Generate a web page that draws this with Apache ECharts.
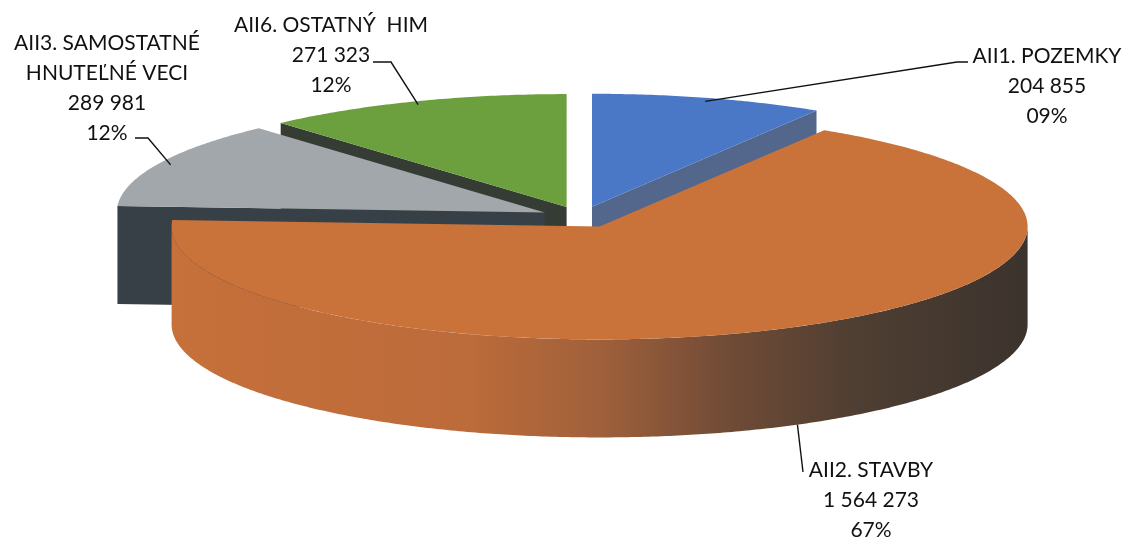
<!DOCTYPE html>
<html><head><meta charset="utf-8">
<script src="https://cdn.jsdelivr.net/npm/echarts@6/dist/echarts.min.js"></script>
<style>html,body{margin:0;padding:0;background:#fff}#chart{width:1130px;height:541px}</style>
</head><body><div id="chart"></div>
<script>
// ---- data ----
const categories = ['AII1. POZEMKY', 'AII2. STAVBY', 'AII3. SAMOSTATNÉ\nHNUTEĽNÉ VECI', 'AII6. OSTATNÝ  HIM'];
const values = [204855, 1564273, 289981, 271323];

// ---- style / layout ----
const topColors = ['#4A77C6', '#C9733B', '#A2A7AC', '#6C9F3D'];
const wallColors = ['#53678D', '#A8643A', '#384047', '#343C33'];
const wallGradients = [null, [[0, '#C6703A'], [0.35, '#BC6B3A'], [0.5, '#A0603B'], [0.65, '#704B36'], [0.8, '#4F3E32'], [1, '#3B332D']], null, null];
const labelLayout = [
  { cx: 1047, y: 56, path: [[957, 62], [968, 62]] },
  { cx: 871, y: 470, path: [[803, 472]] },
  { cx: 107, y: 43, path: [[148, 138], [135, 138]] },
  { cx: 331, y: 25, path: [[391, 62], [373, 62]] }
];
const geom = { cx: 581, cy: 217, rx: 428, ry: 113, depth: 98, explode: 0.094 };
const font = '21px Lato';
const lineH = 30;

// ---- derived ----
const total = values.reduce((a, b) => a + b, 0);
let acc = 0;
const slices = values.map(v => {
  const a0 = acc / total * 2 * Math.PI; acc += v;
  const a1 = acc / total * 2 * Math.PI;
  return { a0, a1, mid: (a0 + a1) / 2 };
});
const order = slices.map((s, i) => i).sort((a, b) => Math.cos(slices[b].mid) - Math.cos(slices[a].mid));
const rank = []; order.forEach((idx, k) => rank[idx] = k);

function fmt(v) { return String(v).replace(/\B(?=(\d{3})+(?!\d))/g, ' '); }
function pct(v) { const p = Math.round(v / total * 100); return (p < 10 ? '0' : '') + p + '%'; }

function renderItem(params, api) {
  const i = params.dataIndex;
  const v = api.value(0);
  const s = slices[i];
  const g = geom, D = g.depth;
  const ox = g.explode * g.rx * Math.sin(s.mid), oy = -g.explode * g.ry * Math.cos(s.mid);
  const P = (t, r, h) => [g.cx + ox + r * g.rx * Math.sin(t), g.cy + oy - r * g.ry * Math.cos(t) + h];
  const arc = (t0, t1, h) => {
    const n = Math.max(2, Math.ceil((t1 - t0) / 0.01)); const pts = [];
    for (let k = 0; k <= n; k++) pts.push(P(t0 + (t1 - t0) * k / n, 1, h));
    return pts;
  };
  const z = rank[i] * 10;
  const children = [];
  const wallFill = wallGradients[i] ? new echarts.graphic.LinearGradient(0, 0, 1, 0, wallGradients[i].map(([o, c]) => ({ offset: o, color: c }))) : wallColors[i];
  // radial walls (only those facing the viewer)
  [[s.a0, Math.sin(s.a0) < -1e-6], [s.a1, Math.sin(s.a1) > 1e-6]].forEach(([t, vis]) => {
    if (!vis) return;
    children.push({ type: 'polygon', z2: z + 1, shape: { points: [P(t, 0, 0), P(t, 1, 0), P(t, 1, D), P(t, 0, D)] }, style: { fill: wallColors[i] } });
  });
  // outer (front) wall
  const f0 = Math.max(s.a0, Math.PI / 2), f1 = Math.min(s.a1, 1.5 * Math.PI);
  if (f1 > f0) {
    const top = arc(f0, f1, 0), bot = arc(f0, f1, D).reverse();
    children.push({ type: 'polygon', z2: z + 2, shape: { points: top.concat(bot) }, style: { fill: wallFill } });
  }
  // top face
  children.push({ type: 'polygon', z2: z + 3, shape: { points: [P(s.a0, 0, 0)].concat(arc(s.a0, s.a1, 0)) }, style: { fill: topColors[i] } });
  // leader line
  const front = Math.cos(s.mid) < 0;
  const anchor = front ? P(s.mid, 1, D) : P(s.mid, 0.97, 0);
  const L = labelLayout[i];
  children.push({ type: 'polyline', z2: 100, shape: { points: [anchor].concat(L.path) }, style: { stroke: '#111111', lineWidth: 1.4, fill: null } });
  // label
  children.push({ type: 'text', z2: 101, style: {
    text: categories[i] + '\n' + fmt(v) + '\n' + pct(v),
    x: L.cx, y: L.y - lineH / 2, align: 'center', verticalAlign: 'top',
    font: font, lineHeight: lineH, fill: '#111111'
  } });
  return { type: 'group', children };
}

const chart = echarts.init(document.getElementById('chart'), null, { renderer: 'canvas' });
chart.setOption({
  backgroundColor: '#ffffff',
  animation: false,
  series: [{
    type: 'custom',
    coordinateSystem: 'none',
    silent: true,
    renderItem,
    data: values.map(v => [v])
  }]
});
</script></body></html>
